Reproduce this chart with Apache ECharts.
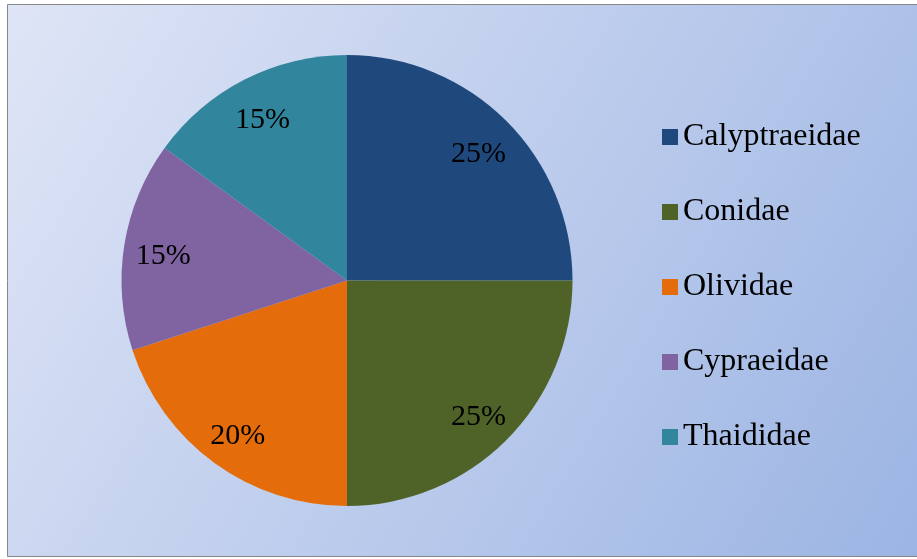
<!DOCTYPE html>
<html><head><meta charset="utf-8">
<script src="https://cdn.jsdelivr.net/npm/echarts@6/dist/echarts.min.js"></script>
<style>html,body{margin:0;padding:0;background:#fff}#c{width:917px;height:559px}</style>
</head><body><div id="c"></div>
<script>
const categories = ['Calyptraeidae','Conidae','Olividae','Cypraeidae','Thaididae'];
const values = [25, 25, 20, 15, 15];
const colors = ['#1F497D','#4F6228','#E46C0A','#8064A2','#31859C'];

const chart = echarts.init(document.getElementById('c'));
const data = categories.map((n,i)=>({name:n, value:values[i]}));
const font = '"Liberation Serif", "Times New Roman", serif';
chart.setOption({
  animation:false,
  color: colors,
  graphic:[{
    type:'rect', z:-10, silent:true,
    shape:{x:7.5, y:4.5, width:915, height:552},
    style:{
      fill:new echarts.graphic.LinearGradient(0,0,1,1,[{offset:0,color:'#dfe5f6'},{offset:1,color:'#9bb4e3'}]),
      stroke:'#878787', lineWidth:1
    }
  }],
  legend:{
    orient:'vertical', left:657, top:116,
    itemWidth:16, itemHeight:16, itemGap:43, icon:'rect',
    textStyle:{fontFamily:font, fontSize:32, color:'#000', lineHeight:32},
    data:categories
  },
  series:[{
    type:'pie', center:[347,280.5], radius:[0,225.5],
    startAngle:90, clockwise:true,
    label:{show:false}, labelLine:{show:false},
    itemStyle:{borderWidth:0},
    emphasis:{disabled:true},
    data:data
  },{
    type:'pie', center:[347,280.5], radius:[156,210],
    startAngle:90, clockwise:true, silent:true,
    itemStyle:{color:'transparent', borderWidth:0},
    label:{show:true, position:'inside', formatter:'{d}%', fontFamily:font, fontSize:30, color:'#000', offset:[0,5]},
    labelLine:{show:false},
    emphasis:{disabled:true},
    data:data
  }]
});
</script></body></html>
